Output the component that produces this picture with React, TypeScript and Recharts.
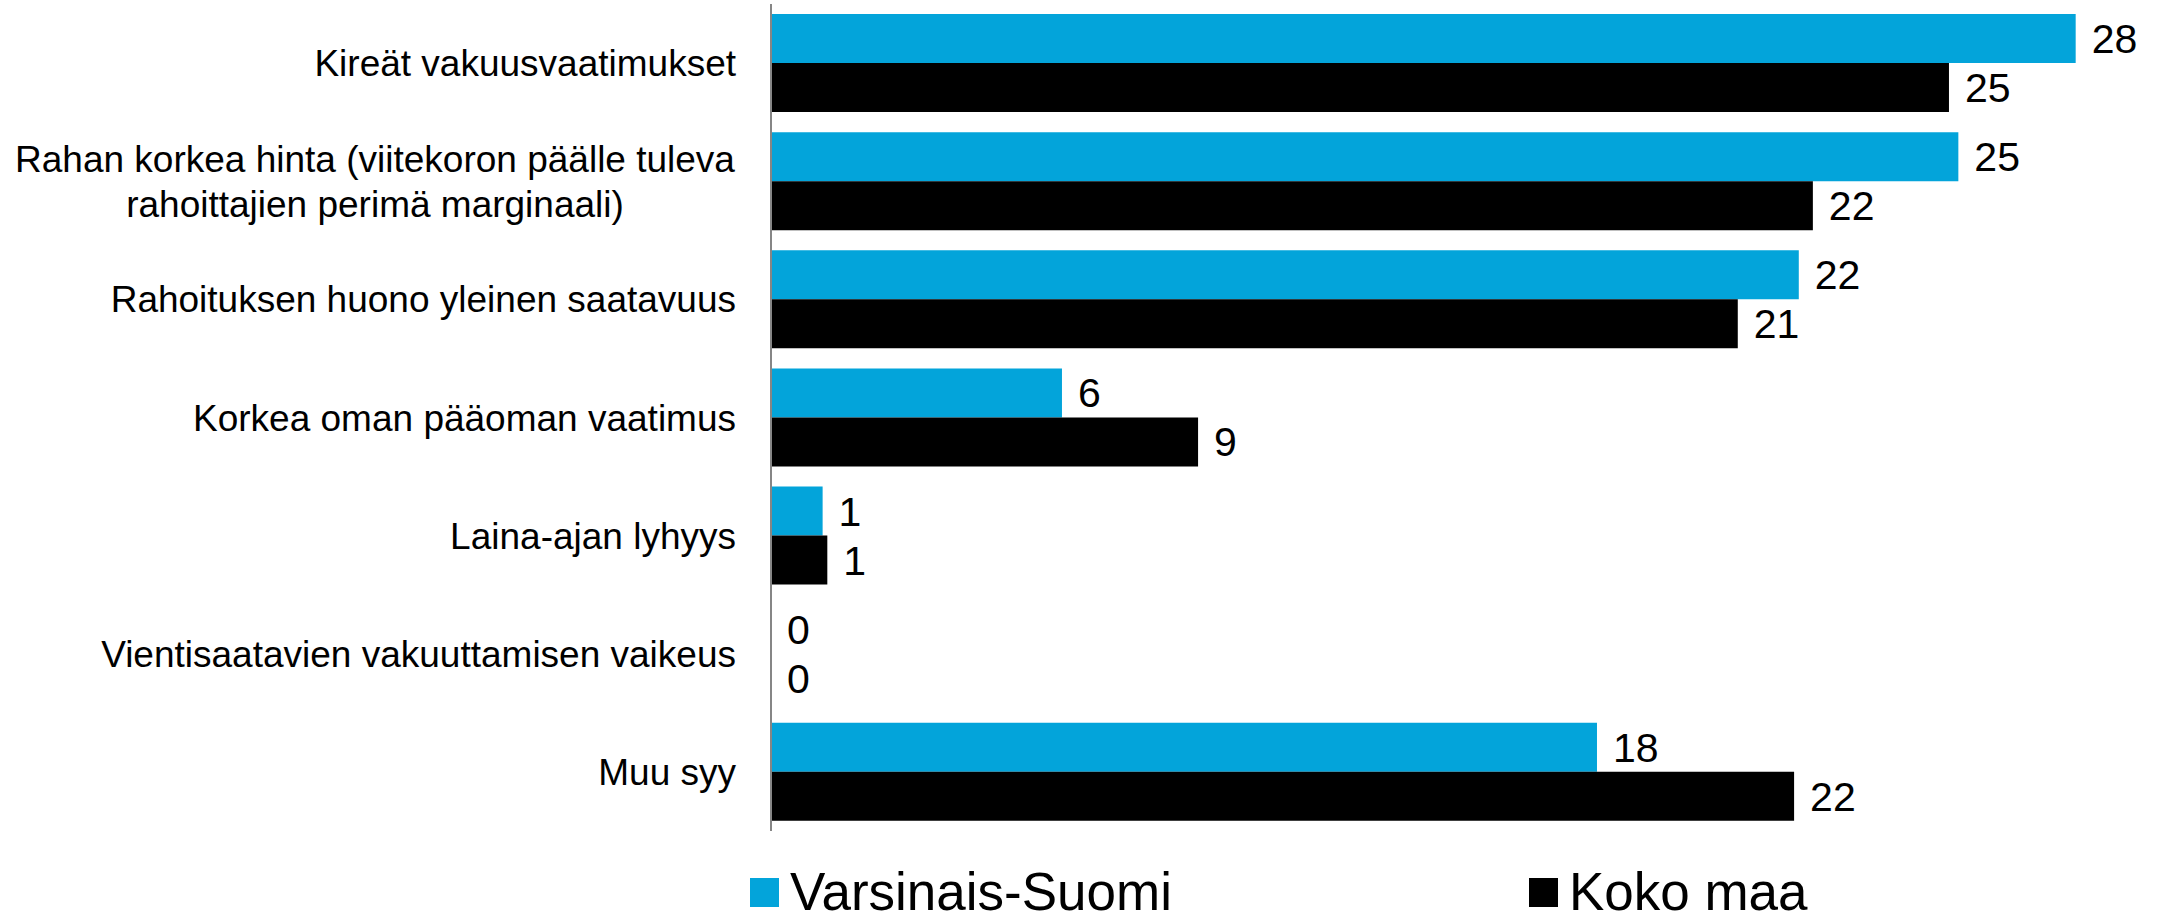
import { Bar, BarChart, LabelList, Legend, XAxis, YAxis } from "recharts";

// reasons for financing problems, % of respondents
const categories = [
  "Kireät vakuusvaatimukset",
  "Rahan korkea hinta (viitekoron päälle tuleva\nrahoittajien perimä marginaali)",
  "Rahoituksen huono yleinen saatavuus",
  "Korkea oman pääoman vaatimus",
  "Laina-ajan lyhyys",
  "Vientisaatavien vakuuttamisen vaikeus",
  "Muu syy",
];
const varsinaisSuomi = [27.8, 25.3, 21.9, 6.2, 1.1, 0, 17.6];
const kokoMaa = [25.1, 22.2, 20.6, 9.1, 1.2, 0, 21.8];
const seriesNames = ["Varsinais-Suomi", "Koko maa"];

const BLUE = "#03a4da";
const BLACK = "#000000";
const FONT = '"Liberation Sans", Arial, sans-serif';

const rows = categories.map((name, i) => ({
  name,
  vs: varsinaisSuomi[i],
  km: kokoMaa[i],
}));

function CategoryTick({ x, y, payload }: { x: number; y: number; payload: { value: string } }) {
  const lines = String(payload.value).split("\n");
  const lineHeight = 45;
  if (lines.length === 1) {
    return (
      <text x={x} y={y} dy="0.355em" textAnchor="end" fontSize={37} fontFamily={FONT} fill="#000">
        {lines[0]}
      </text>
    );
  }
  // wrapped labels are centred inside their block, as in the original
  const cx = x - 361;
  return (
    <g>
      {lines.map((line, i) => (
        <text
          key={line}
          x={cx}
          y={y + (i - (lines.length - 1) / 2) * lineHeight}
          dy="0.355em"
          textAnchor="middle"
          fontSize={37}
          fontFamily={FONT}
          fill="#000"
        >
          {line}
        </text>
      ))}
    </g>
  );
}

function LegendItem({ color, name, gap }: { color: string; name: string; gap: number }) {
  return (
    <div style={{ display: "flex", alignItems: "center", height: 46, marginLeft: gap }}>
      <span style={{ width: 29, height: 29, background: color, marginRight: 11 }} />
      <span style={{ fontSize: 53, lineHeight: "46px", color: "#000" }}>{name}</span>
    </div>
  );
}

function LegendContent() {
  return (
    <div
      style={{
        height: 86,
        boxSizing: "border-box",
        paddingTop: 38,
        display: "flex",
        fontFamily: FONT,
      }}
    >
      <LegendItem color={BLUE} name={seriesNames[0]} gap={750} />
      <LegendItem color={BLACK} name={seriesNames[1]} gap={357} />
    </div>
  );
}

const roundLabel = (v: unknown) => Math.round(Number(v));

export default function App() {
  return (
    <div style={{ position: "absolute", left: 0, top: 0, background: "#fff" }}>
      <BarChart
        width={2165}
        height={917}
        data={rows}
        layout="vertical"
        margin={{ top: 4, right: 33, bottom: 0, left: 0 }}
        barCategoryGap={10}
        barGap={0}
      >
        <XAxis type="number" domain={[0, 29]} hide />
        <YAxis
          type="category"
          dataKey="name"
          width={771}
          tickLine={false}
          tickSize={0}
          tickMargin={35}
          axisLine={{ stroke: "#868686", strokeWidth: 2 }}
          tick={CategoryTick as any}
          interval={0}
        />
        <Legend
          verticalAlign="bottom"
          content={() => <LegendContent />}
          wrapperStyle={{ left: 0, width: 2165, bottom: 0 }}
        />
        <Bar dataKey="vs" name={seriesNames[0]} fill={BLUE} minPointSize={0.01} isAnimationActive={false}>
          <LabelList
            dataKey="vs"
            position="right"
            offset={16}
            fontSize={41}
            fontFamily={FONT}
            fill="#000"
            formatter={roundLabel as any}
          />
        </Bar>
        <Bar dataKey="km" name={seriesNames[1]} fill={BLACK} minPointSize={0.01} isAnimationActive={false}>
          <LabelList
            dataKey="km"
            position="right"
            offset={16}
            fontSize={41}
            fontFamily={FONT}
            fill="#000"
            formatter={roundLabel as any}
          />
        </Bar>
      </BarChart>
    </div>
  );
}
